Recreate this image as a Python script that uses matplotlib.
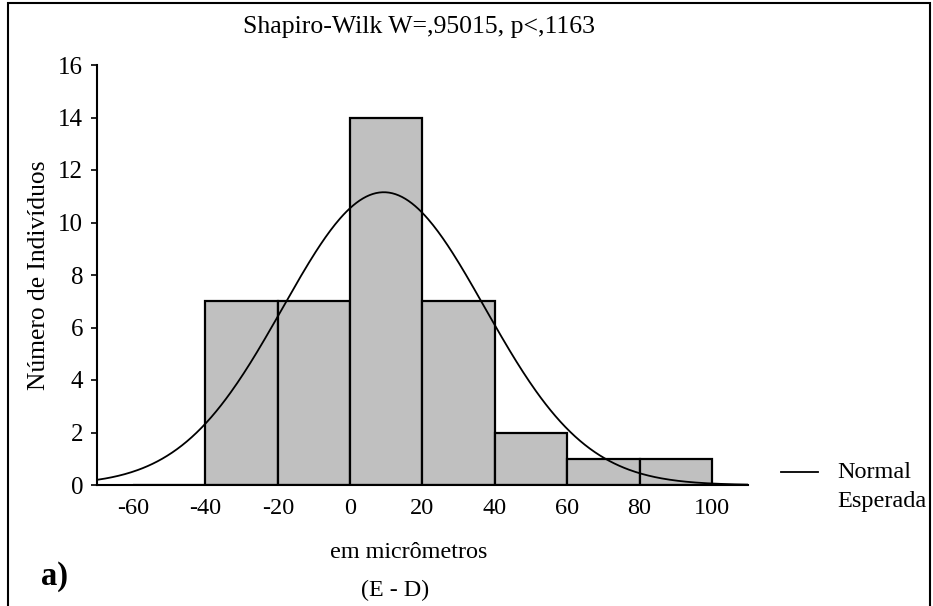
import numpy as np
import matplotlib.pyplot as plt
from matplotlib.patches import Rectangle
from matplotlib.lines import Line2D

plt.rcParams['font.family'] = ['Liberation Serif', 'DejaVu Serif']
plt.rcParams['axes.unicode_minus'] = False

# histogram of (E - D) differences, 20 um bins
bin_left = [-60, -40, -20, 0, 20, 40, 60, 80]
counts = [0, 7, 7, 14, 7, 2, 1, 1]
bin_width = 20

# fitted normal
mu = 9.3
sd = 27.9
n_total = sum(counts)

xticks = [-60, -40, -20, 0, 20, 40, 60, 80, 100]
yticks = [0, 2, 4, 6, 8, 10, 12, 14, 16]

fig = plt.figure(figsize=(9.33, 6.06), dpi=100)
ax = fig.add_axes([97/933, 121/606, (748-97)/933, (485-65)/606])

ax.bar(bin_left, counts, width=bin_width, align='edge', color='#c0c0c0',
       edgecolor='black', linewidth=1.6, zorder=2)

xs = np.linspace(-70, 110, 400)
ys = n_total * bin_width * np.exp(-(xs - mu)**2 / (2*sd**2)) / (sd*np.sqrt(2*np.pi))
ax.plot(xs, ys, color='black', linewidth=1.3, zorder=3)

ax.set_xlim(-70, 110)
ax.set_ylim(0, 16)
ax.set_xticks(xticks)
ax.set_yticks(yticks)
ax.tick_params(axis='x', length=0, labelsize=17.5, pad=9)
ax.tick_params(axis='y', length=4, width=1.2, labelsize=18, pad=6)
for s in ['top', 'right']:
    ax.spines[s].set_visible(False)
for s in ['left', 'bottom']:
    ax.spines[s].set_linewidth(1.5)

ax.set_ylabel('Número de Indivíduos', fontsize=18.4, labelpad=6)

fig.text(419/933, 1 - 27/606, 'Shapiro-Wilk W=,95015, p<,1163', fontsize=18.5,
         ha='center', va='center')
fig.text(409/933, 1 - 552/606, 'em micrômetros', fontsize=17.4, ha='center', va='center')
fig.text(395/933, 1 - 590/606, '(E - D)', fontsize=17.3, ha='center', va='center')
fig.text(55/933, 1 - 577/606, 'a)', fontsize=23.5, fontweight='bold', ha='center', va='center')

# legend
fig.add_artist(Line2D([781/933, 818/933], [1 - 472/606, 1 - 472/606], color='black', linewidth=1.3))
fig.text(837/933, 1 - 473/606, 'Normal', fontsize=17.5, ha='left', va='center')
fig.text(837/933, 1 - 502/606, 'Esperada', fontsize=17.5, ha='left', va='center')

# frame around the whole figure
fig.add_artist(Rectangle((8/933, -0.05), (930-8)/933, 1.05 - 3/606, transform=fig.transFigure,
                         fill=False, edgecolor='black', linewidth=1.5))

fig.savefig('out.png', dpi=100)
